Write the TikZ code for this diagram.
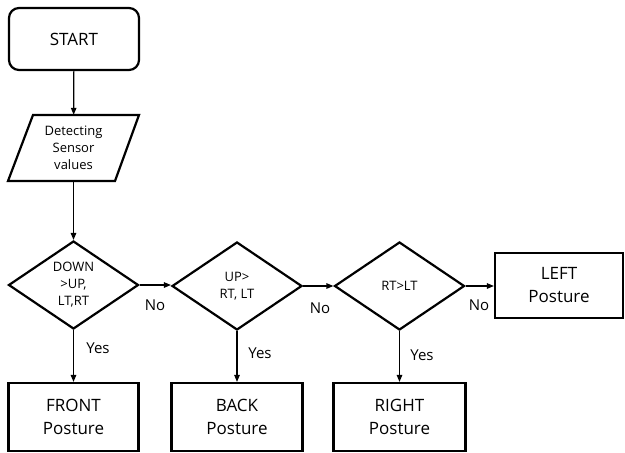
\documentclass[tikz,border=0pt]{standalone}
\usepackage{fontspec}
\setmainfont{Open Sans}
\usetikzlibrary{shapes.geometric,arrows.meta}
\begin{document}
\begin{tikzpicture}[x=1pt,y=-1pt,
  box/.style={draw,line width=2.2pt,minimum width=130pt,minimum height=67pt,inner sep=0pt,font=\fontsize{17}{23}\selectfont,align=center},
  dec/.style={draw,diamond,aspect=1.5,line width=2.2pt,line join=miter,minimum width=130pt,minimum height=88pt,inner sep=0pt,font=\fontsize{13}{17}\selectfont,align=center},
  arr/.style={line width=1.2pt,-{Triangle[length=7pt,width=5.5pt]}},
  lab/.style={font=\fontsize{15}{18}\selectfont,inner sep=0pt}]
\useasboundingbox (0,0) rectangle (625,453);
\node[box,rounded corners=10pt,minimum height=62pt] (start) at (74,39) {START};
\draw[line width=2.2pt,line join=miter] (33,115) -- (139,115) -- (115,181) -- (8,181) -- cycle;
\node[minimum width=80pt,minimum height=66pt,inner sep=0pt,font=\fontsize{13}{17}\selectfont,align=center] (det) at (73.5,148) {Detecting\\Sensor\\values};
\node[dec] (d1) at (73.5,285) {DOWN\\{>}UP,\\LT,RT};
\node[dec] (d2) at (237,286) {UP{>}\\RT, LT};
\node[dec] (d3) at (399.5,286) {RT{>}LT};
\node[box,minimum width=128pt,minimum height=65pt] (left) at (559,285.5) {LEFT\\Posture};
\node[box,minimum height=68pt] (front) at (73.5,417) {FRONT\\Posture};
\node[box,minimum width=131pt,minimum height=68pt] (back) at (237,417) {BACK\\Posture};
\node[box,minimum width=132pt,minimum height=68pt] (right) at (399.5,417) {RIGHT\\Posture};
\draw[arr] (start) -- (det);
\draw[arr] (det) -- (d1);
\draw[arr] (d1.east) -- (d2.west |- d1.east);
\draw[arr] (d2.east) -- (d3.west |- d2.east);
\draw[arr] (d3.east) -- (left.west |- d3.east);
\draw[arr] (d1) -- (front);
\draw[arr] (d2) -- (back);
\draw[arr] (d3) -- (right);
\node[lab] (n1) at (155,305) {No};
\node[lab] (n2) at (320,308) {No};
\node[lab] (n3) at (479,305) {No};
\node[lab] (y1) at (98,348) {Yes};
\node[lab] (y2) at (260,353) {Yes};
\node[lab] (y3) at (422,355) {Yes};
\end{tikzpicture}
\end{document}
